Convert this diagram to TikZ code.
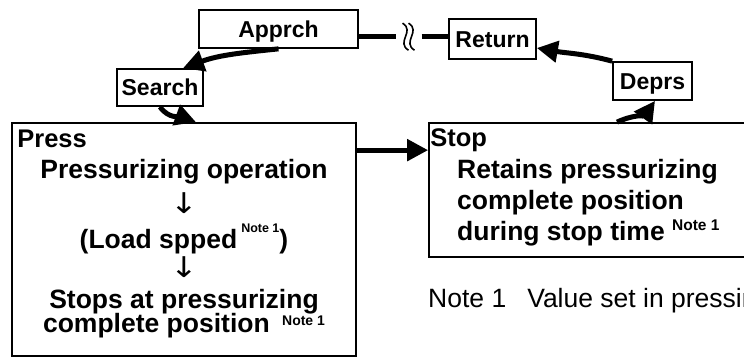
\documentclass[tikz,border=0pt]{standalone}
\usepackage{fontspec}
\usepackage{graphicx}
\setmainfont{Liberation Sans}
\newfontfamily\arrowfont{DejaVu Sans}
\usetikzlibrary{arrows.meta}

\newcommand{\notemark}[2]{\raisebox{#1}{\fontsize{#2}{#2}\selectfont Note 1}}
\newcommand{\downstep}{\raisebox{-4pt}{\scalebox{1.5}[1.3]{\arrowfont\mdseries\fontsize{22}{22}\selectfont ↓}}}
\newcommand{\tightlines}{\lineskiplimit=-30pt\relax}

\begin{document}
\begin{tikzpicture}[
  x=1pt, y=1pt,
  state/.style={draw, line width=1.7pt, inner sep=0pt, font=\fontsize{23}{26}\selectfont\bfseries, text height=17pt, text depth=0pt},
  phase/.style={draw, line width=1.7pt, inner sep=0pt},
  title/.style={anchor=base west, inner sep=0pt, font=\fontsize{25.5}{28}\selectfont\bfseries},
  body/.style={inner sep=0pt, font={\fontsize{26.5}{24}\selectfont\bfseries\tightlines}},
  link/.style={line width=5pt},
  arrow/.style={-{Triangle[length=21pt,width=21pt]}, line width=5pt},
]
\clip (0,0) rectangle (744,358);

% cycle states
\node[state, minimum width=159pt, minimum height=38pt] (apprch) at (278.5,329) {Apprch};
\node[state, minimum width=86pt, minimum height=37pt] (search) at (160,270.5) {Search};
\node[state, minimum width=87pt, minimum height=40pt] (return) at (492.5,319) {Return};
\node[state, minimum width=79pt, minimum height=38pt] (deprs) at (652.5,277) {Deprs};

% press and stop phases
\node[phase, minimum width=344pt, minimum height=233pt] (press) at (184,118.5) {};
\node[title] (pressT) at ([xshift=6pt,yshift=-25pt]press.north west) {Press};
\node[body, align=center, anchor=north] (pressB) at (184,199.3)
{Pressurizing operation\\[7pt]
\downstep\\[15pt]
(Load spped\hspace{4pt}\notemark{16pt}{12.5})\\[1pt]
\downstep\\[11pt]
Stops at pressurizing\\
complete position \hspace{5pt}\notemark{7pt}{14}};

\node[phase, minimum width=351pt, minimum height=134pt] (stop) at (604.5,168) {};
\node[title] (stopT) at ([xshift=2pt,yshift=-24pt]stop.north west) {Stop};
\node[body, align=left, anchor=north west] (stopB) at (457,199.3)
{Retains pressurizing\\[7pt]
complete position\\[7pt]
during stop time \notemark{10pt}{15.5}};

\node[anchor=base west, inner sep=0pt, font=\fontsize{26.5}{28}\selectfont] (note) at (428,50) {Note 1\hspace{21pt}Value set in pressing};

% connectors
\draw[arrow] (apprch.south) to[out=186, in=20] ([xshift=23pt]search.north);
\draw[arrow] (search.south) to[out=-55, in=160] ([xshift=12pt]press.north);
\draw[arrow] ([yshift=-28pt]press.north east) -- ([yshift=-28pt]stop.north west);
\draw[arrow] ([xshift=12.5pt]stop.north) to[out=25, in=235] ([xshift=2.5pt]deprs.south);
\draw[arrow] (deprs.north west) to[out=165, in=-10] ([yshift=-9pt]return.east);

% return to approach, with break mark
\coordinate (brk) at (408.5,321.3);
\draw[link] (brk -| apprch.east) -- ([xshift=-13pt]brk);
\draw[link] ([xshift=13pt]brk) -- (brk -| return.west);
\foreach \dx in {-3,3}
  \draw[line width=1.6pt] ([xshift=\dx pt]brk) ++(-3,13.5) .. controls +(13,-8) and +(-13,8) .. ++(6,-27);

\end{tikzpicture}
\end{document}
